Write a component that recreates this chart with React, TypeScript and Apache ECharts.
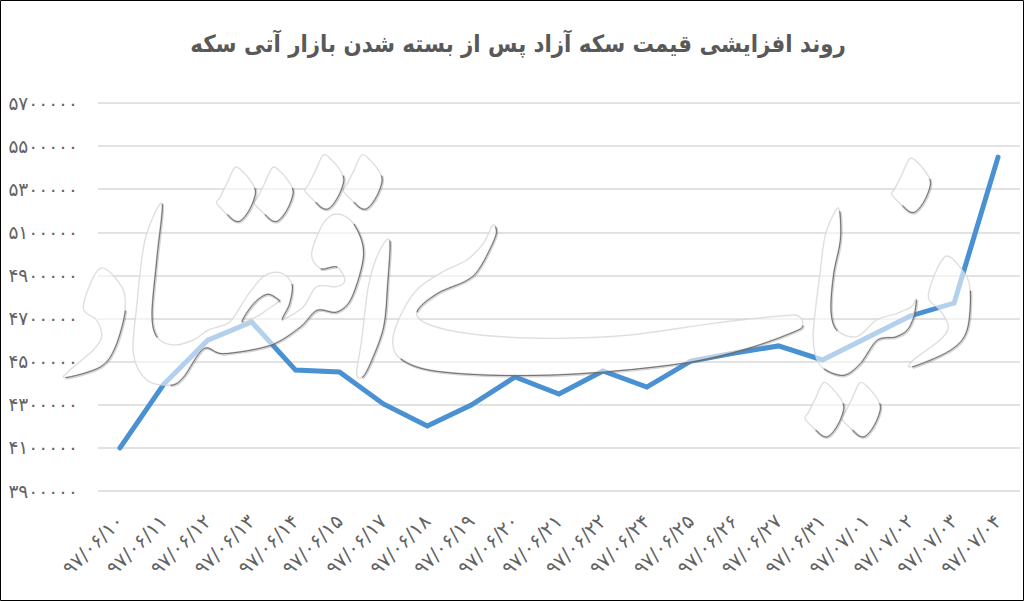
import React, { useEffect, useRef } from "react";
import * as echarts from "echarts";

const titleText = "روند افزایشی قیمت سکه آزاد پس از بسته شدن بازار آتی سکه";
const categories = ["۹۷/۰۶/۱۰","۹۷/۰۶/۱۱","۹۷/۰۶/۱۲","۹۷/۰۶/۱۳","۹۷/۰۶/۱۴","۹۷/۰۶/۱۵","۹۷/۰۶/۱۷","۹۷/۰۶/۱۸","۹۷/۰۶/۱۹","۹۷/۰۶/۲۰","۹۷/۰۶/۲۱","۹۷/۰۶/۲۲","۹۷/۰۶/۲۴","۹۷/۰۶/۲۵","۹۷/۰۶/۲۶","۹۷/۰۶/۲۷","۹۷/۰۶/۳۱","۹۷/۰۷/۰۱","۹۷/۰۷/۰۲","۹۷/۰۷/۰۳","۹۷/۰۷/۰۴"];
const prices = [4100000,4396000,4600000,4684000,4461000,4452000,4304000,4202000,4299000,4429000,4350000,4457000,4382000,4503000,4540000,4573000,4508000,4610000,4712000,4772000,5449000];
const tickValues = [3900000,4100000,4300000,4500000,4700000,4900000,5100000,5300000,5500000,5700000];

const persian = (v: number) => String(v).replace(/\d/g, (d) => "۰۱۲۳۴۵۶۷۸۹"[+d]);

type P = [number, number];
type Mark = { o: P; pts: P[]; dark: [number, number][]; hole?: P[]; holeDark?: [number, number][] };
const diamond = (o: P, dx: number, dy: number): Mark => ({
  o: [o[0] + dx / 3, o[1] + dy / 3],
  pts: [[0,0],[25,15],[45,38],[58,60],[60,80],[48,115],[30,145],[12,161],[-5,158],[-25,140],[-55,108],[-45,90],[-25,50]],
  dark: [[3,9]],
});
const O5: P = [50,140], O6: P = [380,210], O3: P = [780,140];
const marks: Mark[] = [
  { o: O5, pts: [[150,385],[215,440],[225,510],[195,620],[150,680],[45,712],[60,690],[130,630],[155,590],[140,540],[100,500]], dark: [[2,5]] },
  { o: O5, pts: [[335,190],[320,350],[305,520],[320,590],[370,615],[430,600],[475,570],[540,545],[590,470],[640,410],[690,398],[725,430],[718,490],[697,538],[760,500],[800,440],[860,440],[885,420],[860,380],[810,385],[785,340],[820,250],[860,222],[910,250],[940,340],[905,470],[860,515],[800,510],[750,560],[660,615],[520,640],[460,625],[400,710],[360,735],[290,720],[250,640],[260,500],[285,300]],
    dark: [[0,3],[11,13],[18,19],[23,33]],
    hole: [[575,545],[610,490],[650,462],[680,475],[685,485],[650,510],[620,530]], holeDark: [[0,4]] },
  { o: O5, pts: [[1018,300],[1012,430],[1000,560],[960,670],[935,712],[920,700],[935,600],[955,440],[985,340]], dark: [[0,4]] },
  { o: O6, pts: [[345,48],[345,80],[300,170],[260,210],[170,250],[110,305],[150,345],[300,375],[520,385],[750,375],[1000,340],[1200,318],[1255,318],[1268,345],[1240,365],[1100,415],[900,460],[600,490],[350,495],[150,480],[60,445],[38,395],[60,320],[110,240],[180,190],[260,150],[310,100],[335,50]], dark: [[0,5],[13,20]] },
  { o: O3, pts: [[178,212],[180,300],[160,400],[152,510],[170,570],[230,590],[290,540],[350,520],[395,500],[408,478],[400,530],[380,570],[345,590],[290,600],[240,670],[190,705],[130,685],[105,640],[100,570],[120,400],[135,290],[165,215]], dark: [[0,4],[9,16]] },
  { o: O3, pts: [[495,350],[550,395],[570,450],[560,570],[510,630],[395,680],[400,660],[480,600],[505,560],[480,510],[445,465]], dark: [[2,5]] },
  diamond(O5,555,82), diamond(O5,668,82), diamond(O5,820,45), diamond(O5,935,45),
  diamond(O3,390,55), diamond(O3,130,728), diamond(O3,240,728),
];

const f = (n: number) => n.toFixed(2);
function segs(pts: P[], from: number, to: number) {
  const n = pts.length;
  let d = "";
  for (let k = from; k < to; k++) {
    const p0 = pts[(k - 1 + n) % n], p1 = pts[k % n], p2 = pts[(k + 1) % n], p3 = pts[(k + 2) % n];
    const t = 0.16;
    d += `C${f(p1[0] + (p2[0] - p0[0]) * t)} ${f(p1[1] + (p2[1] - p0[1]) * t)} ${f(p2[0] - (p3[0] - p1[0]) * t)} ${f(p2[1] - (p3[1] - p1[1]) * t)} ${f(p2[0])} ${f(p2[1])}`;
  }
  return d;
}
const toPage = (o: P, pts: P[]): P[] => pts.map((p) => [o[0] + p[0] / 3, o[1] + p[1] / 3] as P);

const wmElements: any[] = [];
marks.forEach((m, i) => {
  const pts = toPage(m.o, m.pts);
  let d = `M${f(pts[0][0])} ${f(pts[0][1])}` + segs(pts, 0, pts.length) + "Z";
  let holePts: P[] | null = null;
  if (m.hole) {
    holePts = toPage(m.o, m.hole);
    const rev = [...holePts].reverse();
    d += `M${f(rev[0][0])} ${f(rev[0][1])}` + segs(rev, 0, rev.length) + "Z";
  }
  const name = `wm${i}`;
  echarts.graphic.registerShape(name, echarts.graphic.extendPath(d, {}) as any);
  wmElements.push({ type: name, x: 0, y: 0, z: 100, silent: true, style: { fill: "rgba(255,255,255,0.58)", stroke: "rgba(215,215,215,0.8)", lineWidth: 1.4 } });
  const addDark = (p: P[], r: [number, number], id: string) => {
    const dd = `M${f(p[r[0]][0])} ${f(p[r[0]][1])}` + segs(p, r[0], r[1]);
    echarts.graphic.registerShape(id, echarts.graphic.extendPath(dd, {}) as any);
    wmElements.push({ type: id, x: 1, y: 1, z: 101, silent: true, style: { fill: "none", stroke: "rgba(110,110,110,0.3)", lineWidth: 2.6 } });
    wmElements.push({ type: id, x: 0.4, y: 0.4, z: 102, silent: true, style: { fill: "none", stroke: "rgba(85,85,85,0.75)", lineWidth: 1 } });
  };
  m.dark.forEach((r, j) => addDark(pts, r, `${name}d${j}`));
  if (holePts && m.holeDark) m.holeDark.forEach((r, j) => addDark(holePts as P[], r, `${name}h${j}`));
});

export default function App() {
  const ref = useRef<HTMLDivElement>(null);
  useEffect(() => {
    const chart = echarts.init(ref.current!, null, { renderer: "svg" });
    chart.setOption({
      animation: false,
      backgroundColor: "#fff",
      title: {
        text: titleText,
        left: 513,
        top: 27,
        textAlign: "center",
        textStyle: { fontFamily: "DejaVu Sans Condensed", fontWeight: "bold", fontSize: 23.7, color: "#595959" },
      },
      grid: { left: 98, right: 4, top: 103, height: 388 },
      xAxis: {
        type: "category",
        data: categories,
        boundaryGap: true,
        axisLine: { show: false },
        axisTick: { show: false },
        axisLabel: { interval: 0, rotate: 45, margin: 27, fontFamily: "DejaVu Sans", fontSize: 19.5, color: "#636363" },
      },
      yAxis: {
        type: "value",
        min: 3900000,
        max: 5700000,
        axisLine: { show: false },
        axisTick: { show: false, customValues: tickValues },
        axisLabel: { customValues: tickValues, margin: 20, formatter: (v: number) => persian(v), fontFamily: "DejaVu Sans", fontSize: 18.5, color: "#636363" },
        splitLine: { show: true, lineStyle: { color: "#d9d9d9", width: 1.5 } },
      },
      series: [{
        type: "line",
        data: prices,
        showSymbol: false,
        symbol: "none",
        lineStyle: { color: "#4a91d4", width: 5, cap: "round", join: "miter" },
      }],
      graphic: [
        ...wmElements,
        { type: "rect", z: 110, silent: true, shape: { x: 0.5, y: 0.5, width: 1023, height: 600 }, style: { fill: "none", stroke: "#000", lineWidth: 1 } },
      ],
    });
    return () => chart.dispose();
  }, []);
  return <div ref={ref} style={{ position: "absolute", left: 0, top: 0, width: 1024, height: 601 }} />;
}
